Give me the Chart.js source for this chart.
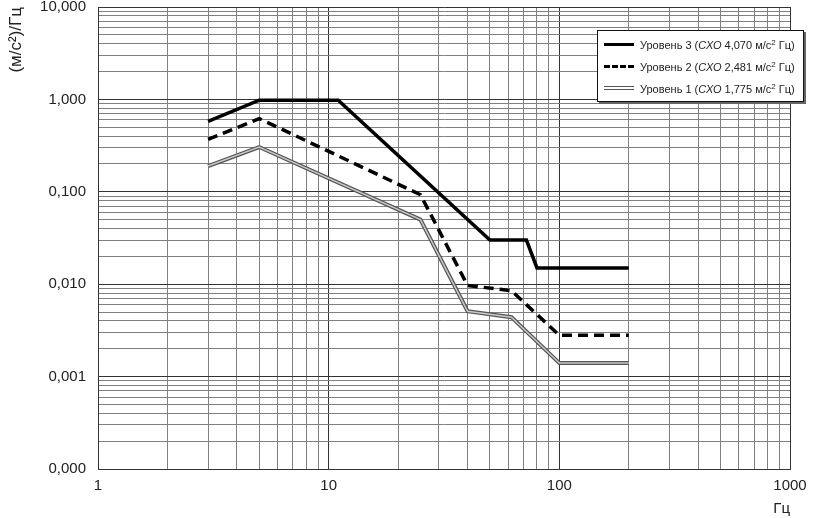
<!DOCTYPE html>
<html>
<head>
<meta charset="utf-8">
<script src="https://cdn.jsdelivr.net/npm/chart.js@4.4.0/dist/chart.umd.min.js"></script>
<style>
  html, body { margin: 0; padding: 0; background: #fff; }
  #wrap { position: relative; width: 816px; height: 518px; }
  #legend {
    position: absolute; left: 597px; top: 30px; width: 205px; height: 70px;
    border: 1px solid #111; box-shadow: 2px 2px 0 #666; background: #fff;
    font-family: 'Liberation Sans', Arial, sans-serif; font-size: 11px; color: #222;
  }
  .row { position: absolute; left: 0; height: 14px; line-height: 14px; white-space: nowrap; }
  .sample { position: absolute; left: 6px; width: 30px; top: 5px; }
  .txt { position: absolute; left: 42px; top: 0; }
  .txt sup { font-size: 8px; vertical-align: 4px; line-height: 0; }
</style>
</head>
<body>
<div id="wrap">
  <canvas id="psd" width="816" height="518"></canvas>
  <div id="legend">
    <div class="row" style="top:7px"><div class="sample" style="border-top:3px solid #000"></div>
      <div class="txt">Уровень 3 (<i>СХО</i> 4,070 м/с<sup>2</sup> Гц)</div></div>
    <div class="row" style="top:29px"><div class="sample" style="border-top:3px dashed #000"></div>
      <div class="txt">Уровень 2 (<i>СХО</i> 2,481 м/с<sup>2</sup> Гц)</div></div>
    <div class="row" style="top:51px"><div class="sample" style="top:4px;border-top:4px double #555"></div>
      <div class="txt">Уровень 1 (<i>СХО</i> 1,775 м/с<sup>2</sup> Гц)</div></div>
  </div>
</div>
<script>
// Values
var freq3 = [3, 5, 11, 50, 72, 80, 200];
var level3 = [0.58, 0.98, 0.98, 0.03, 0.03, 0.015, 0.015];

var freq2 = [3, 5, 25, 40, 62, 100, 200];
var level2 = [0.37, 0.62, 0.093, 0.0097, 0.0085, 0.0028, 0.0028];

var freq1 = [3, 5, 25, 40, 62, 100, 200];
var level1 = [0.19, 0.305, 0.05, 0.0051, 0.0044, 0.0014, 0.0014];

var xMajor = [1, 10, 100, 1000];
var xLabels = ["1", "10", "100", "1000"];
var yMajor = [0.0001, 0.001, 0.01, 0.1, 1, 10];
var yLabels = ["0,000", "0,001", "0,010", "0,100", "1,000", "10,000"];
var mantissas = [1, 2, 3, 4, 5, 6, 7, 8, 9];

function gridValues(majors) {
  var out = [];
  for (var i = 0; i < majors.length - 1; i++) {
    mantissas.forEach(function(m){ out.push(+(m * majors[i]).toPrecision(3)); });
  }
  out.push(majors[majors.length - 1]);
  return out;
}
function pts(xs, ys) {
  return xs.map(function(x, i){ return {x: x, y: ys[i]}; });
}
function isMajor(list, v) {
  return list.some(function(m){ return Math.abs(m - v) / m < 1e-6; });
}
function labelFor(list, labels, v) {
  for (var i = 0; i < list.length; i++) if (Math.abs(list[i] - v) / list[i] < 1e-6) return labels[i];
  return '';
}

var font = { family: "'Liberation Sans', Arial, sans-serif", size: 15 };

// lower index is drawn on top
new Chart(document.getElementById("psd"), {
  type: 'line',
  data: {
    datasets: [
      { data: pts(freq3, level3), borderColor: '#000', borderWidth: 3.5 },
      { data: pts(freq2, level2), borderColor: '#000', borderWidth: 3.5, borderDash: [10, 6] },
      { data: pts(freq1, level1), borderColor: '#c8c8c8', borderWidth: 1.5 },
      { data: pts(freq1, level1), borderColor: '#555', borderWidth: 4 }
    ]
  },
  options: {
    responsive: false,
    animation: false,
    elements: { point: { radius: 0 }, line: { tension: 0, borderJoinStyle: 'miter' } },
    layout: { padding: { top: 7, right: 26, left: 0, bottom: 0 } },
    plugins: { legend: { display: false }, tooltip: { enabled: false } },
    scales: {
      x: {
        type: 'logarithmic', min: 1, max: 1000,
        afterBuildTicks: function(s){ s.ticks = gridValues(xMajor).map(function(v){ return {value: v}; }); },
        afterFit: function(s){ s.height = 49; s.paddingLeft = 0; s.paddingRight = 0; },
        ticks: {
          autoSkip: false, maxRotation: 0, padding: 8, color: '#222', font: font,
          callback: function(v){ return labelFor(xMajor, xLabels, v); }
        },
        grid: {
          drawTicks: false,
          color: function(c){ return isMajor(xMajor, c.tick.value) ? '#333' : '#808080'; },
          lineWidth: 1
        },
        border: { color: '#333' },
        title: { display: true, text: 'Гц', align: 'end', color: '#222', font: font, padding: { top: 0, bottom: 0 } }
      },
      y: {
        type: 'logarithmic', min: 0.0001, max: 10,
        afterBuildTicks: function(s){ s.ticks = gridValues(yMajor).map(function(v){ return {value: v}; }); },
        afterFit: function(s){ s.width = 98; s.paddingTop = 0; s.paddingBottom = 0; },
        ticks: {
          autoSkip: false, padding: 12, color: '#222', font: font,
          callback: function(v){ return labelFor(yMajor, yLabels, v); }
        },
        grid: {
          drawTicks: false,
          color: function(c){ return isMajor(yMajor, c.tick.value) ? '#333' : '#808080'; },
          lineWidth: 1
        },
        border: { color: '#333' },
        title: { display: true, text: '(м/с²)/Гц', align: 'end', color: '#222', font: { family: font.family, size: 17 }, padding: { top: 6, bottom: 0 } }
      }
    }
  }
});
</script>
</body>
</html>
